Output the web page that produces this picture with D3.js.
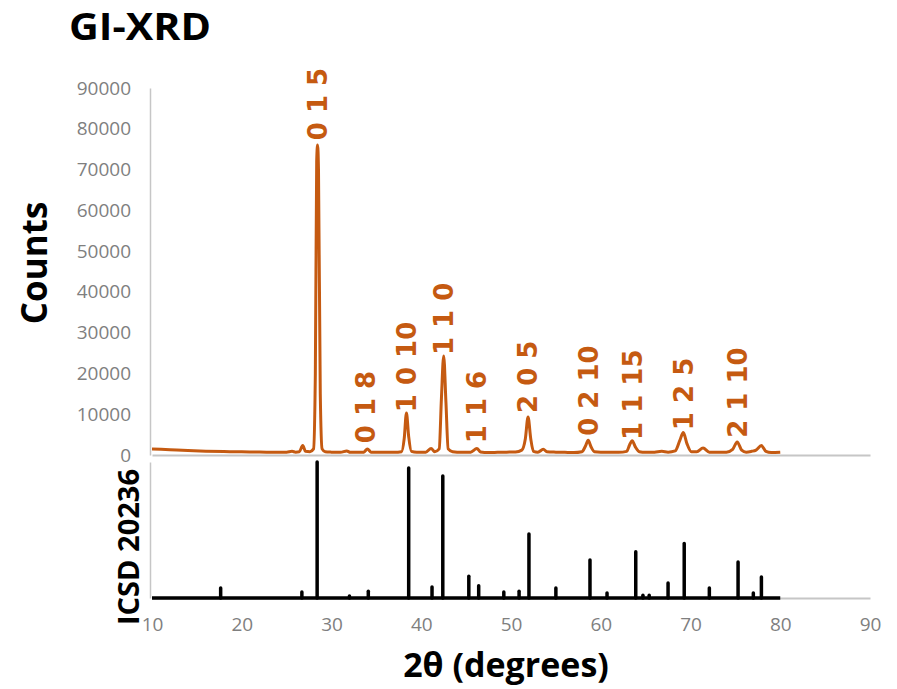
<!DOCTYPE html>
<html>
<head>
<meta charset="utf-8">
<script src="https://cdn.jsdelivr.net/npm/d3@7"></script>
<style>
  html, body { margin: 0; padding: 0; background: #fff; }
  svg { display: block; font-family: "Open Sans", "DejaVu Sans", sans-serif; }
</style>
</head>
<body>
<svg id="chart" width="897" height="689"></svg>
<script>
// Measured GI-XRD pattern: 2θ (degrees) and detector counts
const scanAngle = [10, 12, 14, 16, 18, 20, 22, 24, 25, 25.6, 26, 26.4, 26.8, 27.1, 27.6, 28.0, 28.2, 28.35, 28.45, 28.55, 28.75, 28.95, 29.3,
  30, 31, 31.7, 32.1, 33, 33.6, 34.0, 34.4, 35, 36, 37, 37.8, 38.1, 38.35, 38.6, 38.9, 39.5, 40.5, 41.1, 41.5, 42.0, 42.25, 42.5, 42.75, 43.0, 43.5,
  44.5, 45.5, 46.2, 46.6, 47.5, 48.5, 49.5, 50.5, 51.2, 51.6, 51.9, 52.2, 52.5, 53.0, 53.6, 54.0, 55, 56, 57, 57.9, 58.3, 58.6, 58.9, 59.3,
  60, 61, 62, 62.9, 63.2, 63.5, 63.85, 64.3, 65.0, 66, 66.8, 67.5, 68.3, 68.8, 69.2, 69.6, 70.1, 70.7, 71.4, 72.1, 73, 74.0, 74.7, 75.2, 75.7,
  76.2, 76.8, 77.3, 77.9, 78.4, 79, 80];
const scanCounts = [1500, 1300, 1100, 950, 850, 780, 720, 680, 700, 900, 700, 800, 2300, 900, 800, 1500, 20000, 72000, 76000, 70000, 15000, 1500, 800,
  700, 650, 1000, 650, 650, 700, 1500, 700, 650, 650, 650, 800, 4000, 10300, 4500, 900, 700, 700, 1600, 800, 1500, 14000, 24300, 13000, 1500, 800,
  650, 700, 1600, 750, 600, 650, 700, 750, 1200, 4000, 9300, 4000, 900, 700, 1400, 800, 700, 650, 600, 800, 2200, 3600, 2100, 800,
  700, 700, 650, 900, 2400, 3500, 2000, 800, 650, 700, 900, 700, 1000, 3500, 5500, 2800, 800, 800, 1700, 700, 650, 700, 1400, 3200, 1200,
  700, 900, 1200, 2300, 900, 600, 700];

// Miller indices of the indexed reflections, their 2θ and label anchor height (counts)
const hklLabels = ["0 1 5", "0 1 8", "1 0 10", "1 1 0", "1 1 6", "2 0 5", "0 2 10", "1 1 15", "1 2 5", "2 1 10"];
const hklAngle  = [28.45, 33.8, 38.35, 42.5, 46.2, 51.9, 58.6, 63.5, 69.2, 75.2];
const hklAnchor = [77200, 2900, 10500, 24500, 2900, 10300, 4700, 3700, 6100, 4200];

// Reference pattern ICSD 20236: stick positions (2θ) and relative intensity (%)
const refAngle     = [17.65, 26.7, 28.4, 32.0, 34.1, 38.6, 41.2, 42.4, 45.3, 46.4, 49.2, 50.9, 52.0, 55.0, 58.8, 60.7, 63.9, 64.7, 65.4, 67.5, 69.3, 72.1, 75.3, 77.0, 77.9];
const refIntensity = [7.4, 4.4, 100, 1.5, 5, 95.6, 8, 89.7, 16, 9, 4.4, 5, 47, 7.4, 28, 3.7, 34, 2, 2, 11, 40, 7.4, 26.5, 3.7, 15.4];

// Axis ticks
const countTicks = [0, 10000, 20000, 30000, 40000, 50000, 60000, 70000, 80000, 90000];
const angleTicks = [10, 20, 30, 40, 50, 60, 70, 80, 90];

const orange = "#c55a11";
const axisGray = "#c6c6c6";
const tickGray = "#7f7f7f";

const svg = d3.select("#chart");

const x = d3.scaleLinear().domain([10, 90]).range([152, 870]);
const yTop = d3.scaleLinear().domain([0, 90000]).range([455, 88]);
const yRef = d3.scaleLinear().domain([0, 100]).range([598, 462]);

// Title
svg.append("text")
  .attr("x", 69).attr("y", 40)
  .attr("font-size", 38).attr("font-weight", 700)
  .attr("textLength", 142).attr("lengthAdjust", "spacingAndGlyphs")
  .attr("fill", "#000")
  .text("GI-XRD");

// Upper panel: counts axis (labels only, light axis line)
const yAxisG = svg.append("g")
  .attr("transform", "translate(150,0)")
  .call(d3.axisLeft(yTop).tickValues(countTicks).tickFormat(d3.format("d")).tickSize(0).tickPadding(19).tickSizeOuter(0));
yAxisG.select(".domain").attr("stroke", axisGray).attr("stroke-width", 1.5);
yAxisG.selectAll("text").attr("font-size", 19).attr("fill", tickGray).attr("font-family", "Open Sans");

// Upper panel baseline
const topBase = svg.append("g")
  .attr("transform", "translate(0,455)")
  .call(d3.axisBottom(x).tickValues([]).tickSize(0).tickSizeOuter(0));
topBase.select(".domain").attr("stroke", axisGray).attr("stroke-width", 2);

// Lower panel: left axis line
const refAxisG = svg.append("g")
  .attr("transform", "translate(150,0)")
  .call(d3.axisLeft(yRef).tickValues([]).tickSize(0).tickSizeOuter(0));
refAxisG.select(".domain").attr("stroke", axisGray).attr("stroke-width", 1.5);

// Shared 2θ axis at the bottom
const xAxisG = svg.append("g")
  .attr("transform", "translate(0,598)")
  .call(d3.axisBottom(x).tickValues(angleTicks).tickFormat(d3.format("d")).tickSize(0).tickPadding(20).tickSizeOuter(0));
xAxisG.select(".domain").attr("stroke", axisGray).attr("stroke-width", 2);
xAxisG.selectAll("text").attr("font-size", 19).attr("fill", tickGray).attr("font-family", "Open Sans");

// Measured pattern
const scan = scanAngle.map((a, i) => [a, scanCounts[i]]);
svg.append("path")
  .datum(scan)
  .attr("fill", "none")
  .attr("stroke", orange)
  .attr("stroke-width", 3)
  .attr("stroke-linejoin", "round")
  .attr("d", d3.line().x(d => x(d[0])).y(d => yTop(d[1])).curve(d3.curveMonotoneX));

// hkl labels
svg.append("g").selectAll("text")
  .data(hklLabels)
  .join("text")
  .attr("transform", (d, i) => `translate(${x(hklAngle[i])},${yTop(hklAnchor[i])}) rotate(-90)`)
  .attr("dy", "0.36em")
  .attr("font-family", "DejaVu Sans")
  .attr("font-weight", 700)
  .attr("font-size", 26)
  .attr("fill", orange)
  .attr("text-anchor", "start")
  .text(d => d);

// Reference sticks
const refG = svg.append("g").attr("stroke", "#000").attr("fill", "none");
refG.append("line")
  .attr("x1", x(10)).attr("x2", x(80))
  .attr("y1", yRef(0)).attr("y2", yRef(0))
  .attr("stroke-width", 3.5);
refG.selectAll("line.stick")
  .data(refAngle)
  .join("line")
  .attr("class", "stick")
  .attr("x1", d => x(d)).attr("x2", d => x(d))
  .attr("y1", yRef(0))
  .attr("y2", (d, i) => yRef(refIntensity[i]))
  .attr("stroke-width", 3.5)
  .attr("stroke-linecap", "round");

// Axis titles
svg.append("text")
  .attr("transform", "translate(47,263) rotate(-90)")
  .attr("text-anchor", "middle")
  .attr("font-size", 35).attr("font-weight", 700)
  .text("Counts");

svg.append("text")
  .attr("transform", "translate(139,547) rotate(-90)")
  .attr("text-anchor", "middle")
  .attr("font-size", 29).attr("font-weight", 700)
  .text("ICSD 20236");

svg.append("text")
  .attr("x", 506).attr("y", 677)
  .attr("text-anchor", "middle")
  .attr("font-size", 34).attr("font-weight", 700)
  .text("2θ (degrees)");
</script>
</body>
</html>
